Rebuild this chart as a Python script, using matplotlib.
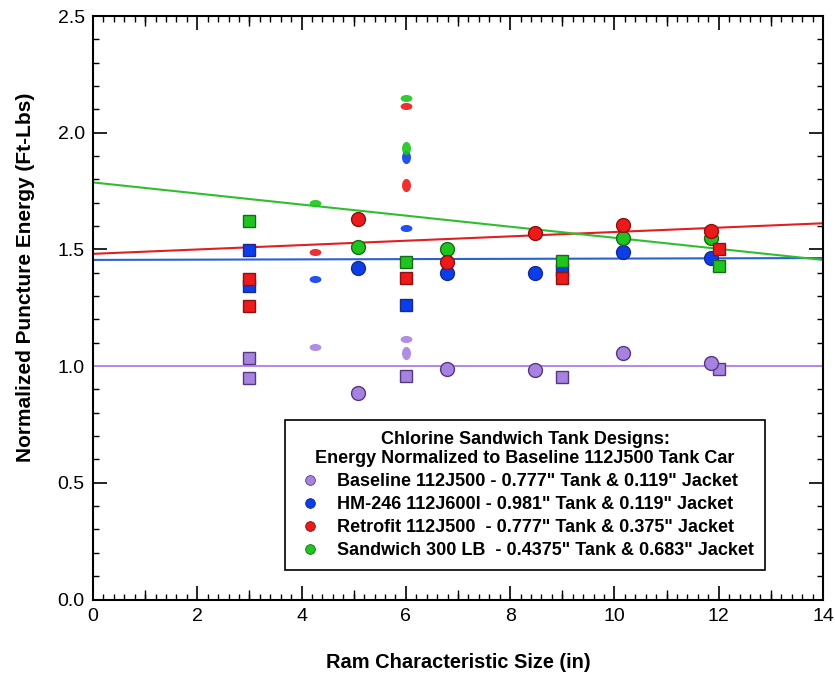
import numpy as np
import matplotlib
matplotlib.use("Agg")
import matplotlib.pyplot as plt
from matplotlib.path import Path
from matplotlib.transforms import Affine2D
from matplotlib.lines import Line2D
from matplotlib.ticker import MultipleLocator, FormatStrFormatter

plt.rcParams['font.family'] = ['Liberation Sans', 'DejaVu Sans']

# ---------------- data ----------------
series_names = [
    'Baseline 112J500 - 0.777" Tank & 0.119" Jacket',
    'HM-246 112J600I - 0.981" Tank & 0.119" Jacket',
    'Retrofit 112J500  - 0.777" Tank & 0.375" Jacket',
    'Sandwich 300 LB  - 0.4375" Tank & 0.683" Jacket',
]
legend_title = "Chlorine Sandwich Tank Designs:\nEnergy Normalized to Baseline 112J500 Tank Car"

# shape codes: s = square, o = circle, w = wide smear, t = tall smear
baseline_x = [3, 3, 6, 9, 12, 5.09, 6.78, 8.48, 10.17, 11.85, 4.26, 6.0, 6.0]
baseline_y = [1.034, 0.948, 0.958, 0.952, 0.987, 0.884, 0.987, 0.984, 1.055, 1.012, 1.081, 1.115, 1.055]
baseline_m = ['s', 's', 's', 's', 's', 'o', 'o', 'o', 'o', 'o', 'w', 'w', 't']

hm246_x = [3, 3, 6, 9, 5.09, 6.78, 8.48, 10.17, 11.85, 4.26, 6.0, 6.0]
hm246_y = [1.498, 1.343, 1.262, 1.412, 1.420, 1.398, 1.398, 1.491, 1.465, 1.372, 1.591, 1.898]
hm246_m = ['s', 's', 's', 's', 'o', 'o', 'o', 'o', 'o', 'w', 'w', 't']

retrofit_x = [3, 3, 6, 9, 12, 5.09, 6.78, 8.48, 10.17, 11.85, 4.26, 6.0, 6.0]
retrofit_y = [1.372, 1.258, 1.377, 1.377, 1.501, 1.630, 1.448, 1.570, 1.605, 1.577, 1.488, 2.115, 1.777]
retrofit_m = ['s', 's', 's', 's', 's', 'o', 'o', 'o', 'o', 'o', 'w', 'w', 't']

sandwich_x = [3, 6, 9, 12, 5.09, 6.78, 10.17, 11.85, 4.26, 6.0, 6.0]
sandwich_y = [1.622, 1.448, 1.452, 1.429, 1.512, 1.501, 1.548, 1.548, 1.70, 2.148, 1.934]
sandwich_m = ['s', 's', 's', 's', 'o', 'o', 'o', 'o', 'w', 'w', 't']

# fitted trend lines (value at x = 0 and x = 14)
fit_x = [0, 14]
baseline_fit = [1.000, 1.000]
hm246_fit = [1.455, 1.463]
retrofit_fit = [1.481, 1.612]
sandwich_fit = [1.787, 1.455]

# ---------------- styles ----------------
fills = ['#A782E0', '#0C3DEA', '#EC1A1A', '#1EC51E']
edges = ['#55397F', '#182C86', '#8A1212', '#176A17']
line_cols = ['#B48CE8', '#2B5FD6', '#E21E1E', '#2EBF2E']

unit = Path.unit_circle()
wide = Path(Affine2D().scale(1.0, 0.6).transform(unit.vertices), unit.codes)
tall = Path(Affine2D().scale(0.68, 1.0).transform(unit.vertices), unit.codes)

fig = plt.figure(figsize=(8.35, 6.73), dpi=100)
ax = fig.add_axes([0.1114, 0.1092, 0.8742, 0.8670])

data = [
    (baseline_x, baseline_y, baseline_m, baseline_fit),
    (hm246_x, hm246_y, hm246_m, hm246_fit),
    (retrofit_x, retrofit_y, retrofit_m, retrofit_fit),
    (sandwich_x, sandwich_y, sandwich_m, sandwich_fit),
]

for i, (xs, ys, ms, fit) in enumerate(data):
    ax.plot(fit_x, fit, color=line_cols[i], lw=1.5, zorder=2)

draw_order = [0, 1, 3, 2]
for rank, i in enumerate(draw_order):
    xs, ys, ms, fit = data[i]
    xs = np.array(xs); ys = np.array(ys); ms = np.array(ms)
    z = 3 + rank
    sel = ms == 's'
    ax.plot(xs[sel], ys[sel], ls='none', marker='s', ms=9.3, mfc=fills[i],
            mec=edges[i], mew=1.0, zorder=z)
    sel = ms == 'o'
    ax.plot(xs[sel], ys[sel], ls='none', marker='o', ms=10, mfc=fills[i],
            mec=edges[i], mew=1.0, zorder=z)
    sel = ms == 'w'
    ax.plot(xs[sel], ys[sel], ls='none', marker=wide, ms=8.5, mfc=fills[i],
            mec='none', alpha=0.9, zorder=z)
    sel = ms == 't'
    ax.plot(xs[sel], ys[sel], ls='none', marker=tall, ms=9.5, mfc=fills[i],
            mec='none', alpha=0.9, zorder=z)

ax.set_xlim(0, 14)
ax.set_ylim(0, 2.5)
ax.xaxis.set_major_locator(MultipleLocator(2))
ax.xaxis.set_minor_locator(MultipleLocator(0.2))
ax.yaxis.set_major_locator(MultipleLocator(0.5))
ax.yaxis.set_minor_locator(MultipleLocator(0.1))
ax.yaxis.set_major_formatter(FormatStrFormatter('%.1f'))

ax.tick_params(which='both', direction='in', top=True, right=True, color='black')
ax.tick_params(which='major', length=10, width=1.2, labelsize=14, pad=6)
ax.tick_params(which='minor', length=4.5, width=1.0)
for s in ax.spines.values():
    s.set_linewidth(1.5)

# medium ticks at odd integers
for loc in ['bottom', 'top']:
    sec = ax.secondary_xaxis(loc)
    sec.set_xticks([1, 3, 5, 7, 9, 11, 13])
    sec.set_xticklabels([])
    sec.tick_params(direction='in', length=7, width=1.0)
    sec.spines[loc].set_visible(False)

ax.set_xlabel('Ram Characteristic Size (in)', fontsize=14.4, fontweight='bold', labelpad=20)
ax.set_ylabel('Normalized Puncture Energy (Ft-Lbs)', fontsize=15, fontweight='bold')
ax.yaxis.set_label_coords(-0.079, 0.553)

handles = [Line2D([], [], ls='none', marker='o', ms=7, mfc=fills[i], mec=edges[i], mew=0.6)
           for i in range(4)]
leg = ax.legend(handles, series_names, title=legend_title, loc='lower left',
                bbox_to_anchor=(0.263, 0.0506), borderaxespad=0, frameon=True, fancybox=False,
                edgecolor='black', framealpha=1, borderpad=0.6, labelspacing=0.33,
                handletextpad=0.7, handlelength=1.6,
                prop={'size': 13, 'weight': 'bold'},
                title_fontproperties={'size': 13, 'weight': 'bold'})
leg.get_title().set_multialignment('center')
leg.get_frame().set_linewidth(1.2)
leg.set_zorder(10)

fig.savefig('out.png', dpi=100)
